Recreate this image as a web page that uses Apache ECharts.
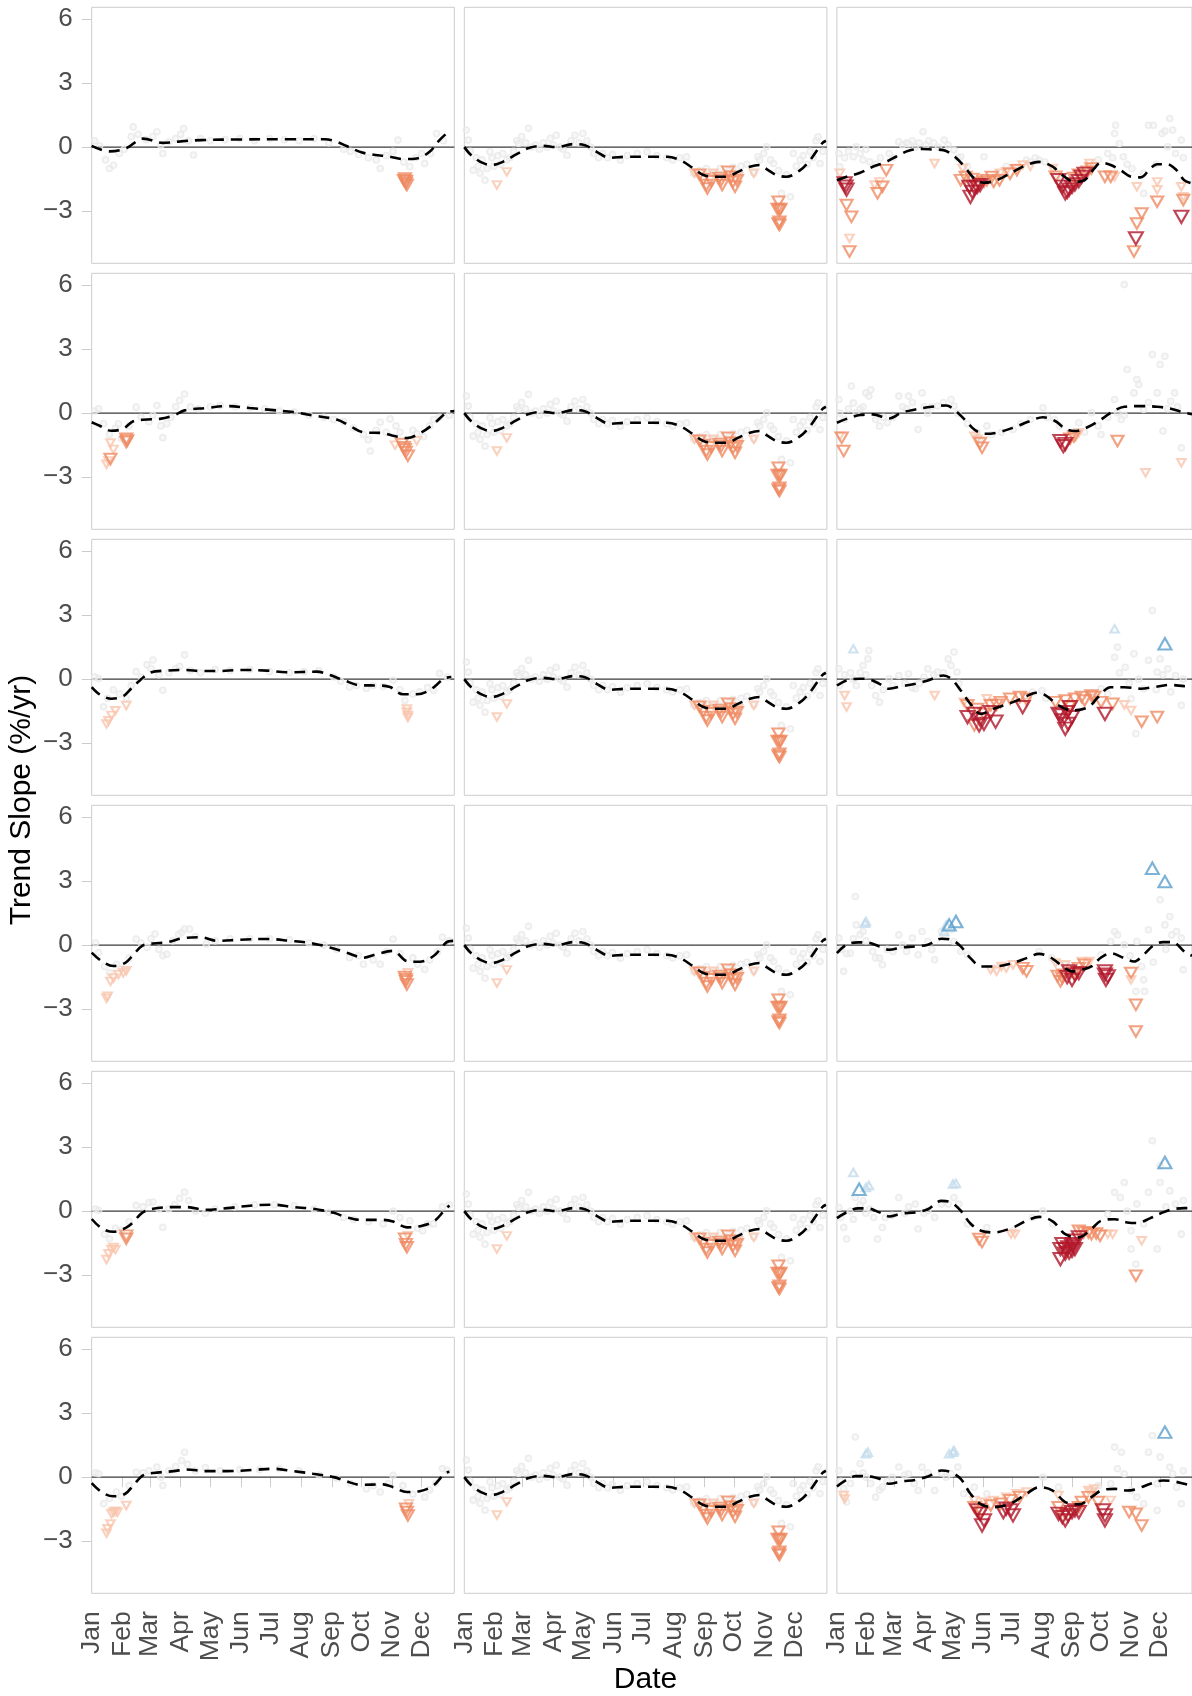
<!DOCTYPE html>
<html>
<head>
<meta charset="utf-8">
<script src="https://cdn.jsdelivr.net/npm/echarts@6/dist/echarts.min.js"></script>
<style>html,body{margin:0;padding:0;background:#fff}#chart{width:1192px;height:1696px}</style>
</head>
<body>
<div id="chart"></div>
<script>
// ---------- axes ----------
const MONTHS = ['Jan','Feb','Mar','Apr','May','Jun','Jul','Aug','Sep','Oct','Nov','Dec'];
const MONTH_DAYS = [0,31,59,90,120,151,181,212,243,273,304,334];
const Y_TICKS = [-3,0,3,6];
const X_MIN = 0, X_MAX = 367, Y_MIN = -5.45, Y_MAX = 6.56;

// ---------- column 2 (identical in every row) ----------
const c2_trend = [[0,0.0],[7,-0.38],[18,-0.73],[28,-0.84],[39,-0.69],[53,-0.33],[66,-0.03],[80,0.06],[93,0.0],[110,0.14],[122,0.09],[134,-0.22],[147,-0.5],[164,-0.45],[185,-0.45],[205,-0.45],[218,-0.6],[232,-1.0],[242,-1.31],[255,-1.39],[266,-1.39],[277,-1.16],[289,-0.92],[299,-0.84],[306,-1.03],[316,-1.31],[326,-1.39],[340,-1.08],[350,-0.61],[362,0.17],[366,0.3]];
const c2_gray = [[2,0.8],[4,0.33],[6,-0.2],[9,-1.08],[12,-0.5],[14,-0.9],[16,-1.23],[18,-0.6],[21,-1.55],[23,-1.0],[26,-0.22],[28,-0.5],[30,-0.9],[34,-0.4],[37,-0.8],[39,-0.3],[43,-0.6],[46,-0.5],[50,-0.2],[53,0.3],[55,0.17],[58,0.5],[62,0.2],[65,0.88],[68,0.0],[72,0.1],[76,-0.1],[80,0.2],[84,0.0],[87,0.41],[90,0.1],[93,0.56],[97,0.0],[100,-0.1],[104,-0.38],[108,0.3],[112,0.56],[116,0.2],[120,0.64],[124,0.3],[128,0.0],[131,-0.3],[136,-0.5],[140,-0.3],[145,-0.5],[150,-0.35],[158,-0.61],[165,-0.4],[175,-0.3],[185,-0.22],[195,-0.4],[205,-0.5],[211,-0.6],[218,-0.5],[225,-0.45],[232,-1.23],[238,-1.1],[245,-1.0],[252,-1.2],[259,-1.0],[268,-1.1],[272,-0.95],[280,-0.9],[286,-0.8],[293,-1.23],[297,-0.45],[299,-0.6],[303,-0.3],[306,0.02],[310,-0.6],[313,-0.77],[318,-1.1],[321,-2.17],[326,-1.3],[330,-2.33],[333,-0.3],[336,-0.9],[340,-0.6],[343,-0.4],[347,-0.8],[350,-0.2],[353,-0.5],[356,0.3],[358,0.48],[360,-0.77],[363,-0.2]];
const c2_tri = [[33,-1.78,'wd'],[43,-1.16,'wd'],[233,-1.23,'wd'],[252,-1.23,'wd'],[269,-1.31,'wd'],[277,-1.39,'wd'],[293,-1.23,'wd'],[238,-1.3,'d'],[242,-1.5,'d'],[245,-1.78,'d'],[246,-1.94,'d'],[250,-1.6,'d'],[258,-1.45,'d'],[260,-1.55,'d'],[261,-1.78,'d'],[267,-1.16,'d'],[270,-1.39,'d'],[272,-1.62,'d'],[274,-1.86,'d'],[276,-1.55,'d'],[318,-2.56,'d'],[319,-2.95,'d'],[317,-2.9,'d'],[320,-2.9,'d'],[319,-3.5,'d'],[319,-3.65,'d'],[318,-3.58,'d']];

// ---------- column 1 ----------
const r1c1_trend = [[0,0.06],[18,-0.2],[35,-0.05],[52,0.4],[72,0.2],[90,0.27],[110,0.33],[150,0.36],[200,0.37],[236,0.37],[248,0.25],[258,0.05],[275,-0.27],[302,-0.45],[315,-0.56],[329,-0.53],[342,-0.22],[352,0.33],[362,0.76]];
const r1c1_gray = [[3,0.3],[8,0.05],[14,-0.6],[18,-1.0],[22,-0.85],[28,-0.3],[33,-0.1],[40,0.5],[42,0.95],[47,0.6],[55,0.35],[62,0.5],[66,0.72],[70,0.1],[72,-0.3],[78,0.25],[85,0.4],[90,0.6],[93,0.87],[98,0.3],[103,-0.37],[110,0.4],[120,0.3],[135,0.35],[150,0.4],[165,0.3],[180,0.4],[195,0.35],[210,0.3],[225,0.4],[240,0.2],[255,-0.1],[262,-0.2],[270,-0.35],[280,-0.5],[288,-0.6],[292,-1.0],[298,-0.4],[305,-0.2],[310,0.33],[316,-0.7],[322,-0.92],[328,-0.5],[334,-0.3],[337,-0.77],[343,-0.3],[349,0.64],[356,0.3]];
const r1c1_tri = [[317,-1.47,'d'],[318,-1.6,'d'],[318,-1.7,'d'],[319,-1.78,'d'],[316,-1.55,'d'],[320,-1.5,'wd']];

const r2c1_trend = [[0,-0.43],[8,-0.59],[20,-0.83],[32,-0.73],[42,-0.38],[56,-0.3],[69,-0.27],[83,-0.11],[94,0.13],[116,0.24],[137,0.33],[160,0.24],[184,0.14],[204,0.05],[224,-0.11],[248,-0.3],[261,-0.59],[275,-0.9],[295,-0.94],[305,-1.06],[319,-1.17],[332,-0.95],[346,-0.51],[359,0.02],[367,0.1]];
const r2c1_gray = [[3,0.1],[7,0.2],[12,-0.5],[18,-1.0],[24,-0.7],[27,-0.5],[30,-1.2],[38,-0.6],[45,0.28],[50,-0.2],[58,-0.4],[62,-0.1],[66,0.36],[70,-0.6],[72,-1.15],[76,-0.5],[80,-0.2],[85,0.3],[89,0.6],[94,0.9],[100,0.3],[108,0.2],[120,0.3],[130,0.35],[145,0.3],[160,0.25],[175,0.2],[190,0.1],[205,0.05],[220,-0.1],[235,-0.2],[245,-0.3],[255,-0.4],[265,-0.7],[275,-1.0],[280,-1.25],[282,-1.78],[288,-0.8],[292,-0.43],[298,-0.9],[302,-0.27],[308,-0.6],[312,-0.9],[325,-0.8],[329,-0.97],[336,-1.1],[342,-0.6],[346,-0.3],[352,-0.2],[362,-0.1]];
const r2c1_tri = [[15,-2.4,'wd'],[17,-2.25,'wd'],[19,-1.4,'wd'],[22,-1.7,'wd'],[19,-2.15,'d'],[35,-1.2,'d'],[35,-1.35,'d'],[36,-1.28,'d'],[307,-1.5,'wd'],[314,-1.45,'d'],[317,-1.7,'d'],[318,-1.83,'d'],[320,-2.0,'d'],[316,-1.6,'d'],[329,-1.3,'wd']];

const r3c1_trend = [[0,-0.37],[8,-0.71],[20,-0.92],[32,-0.8],[40,-0.44],[49,-0.05],[59,0.3],[76,0.4],[96,0.43],[110,0.38],[128,0.38],[150,0.43],[177,0.4],[197,0.32],[228,0.35],[241,0.19],[255,-0.05],[272,-0.29],[292,-0.3],[302,-0.37],[315,-0.71],[329,-0.71],[342,-0.52],[357,0.03],[364,0.1]];
const r3c1_gray = [[3,0.1],[7,0.03],[12,-1.3],[16,-0.9],[22,-0.5],[28,-0.7],[35,-0.9],[40,-0.3],[45,0.35],[50,0.1],[56,0.67],[60,0.5],[62,0.9],[68,0.2],[72,-0.52],[78,0.3],[85,0.5],[89,0.6],[94,1.14],[100,0.4],[110,0.3],[125,0.45],[140,0.4],[160,0.45],[180,0.35],[200,0.3],[215,0.35],[230,0.4],[245,0.1],[252,-0.1],[261,-0.37],[268,-0.3],[278,-0.44],[285,-0.3],[295,-0.35],[305,-0.05],[312,-0.5],[317,-1.0],[325,-0.7],[332,-0.6],[340,-0.4],[346,-0.52],[352,0.27],[360,0.1]];
const r3c1_tri = [[15,-2.1,'wd'],[17,-1.95,'wd'],[20,-1.7,'wd'],[24,-1.48,'wd'],[35,-1.24,'wd'],[319,-1.4,'wd'],[319,-1.55,'wd'],[320,-1.7,'wd'],[320,-1.8,'wd']];

const r4c1_trend = [[0,-0.35],[10,-0.75],[22,-0.98],[34,-0.83],[42,-0.46],[51,-0.03],[62,0.08],[76,0.13],[93,0.33],[110,0.37],[127,0.2],[150,0.25],[177,0.29],[201,0.2],[224,0.08],[241,-0.11],[258,-0.35],[275,-0.59],[288,-0.43],[305,-0.27],[319,-0.75],[332,-0.78],[346,-0.51],[359,0.13],[366,0.2]];
const r4c1_gray = [[4,0.1],[7,-0.35],[13,-1.0],[18,-1.3],[25,-0.9],[30,-1.1],[38,-0.6],[45,0.29],[50,0.1],[56,-0.1],[60,0.3],[64,0.52],[68,-0.2],[72,-0.5],[76,-0.43],[82,0.2],[88,0.5],[91,0.6],[94,0.76],[99,0.75],[105,0.4],[116,0.05],[125,0.2],[140,0.3],[160,0.3],[180,0.3],[200,0.25],[220,0.1],[235,0.0],[248,-0.2],[261,-0.59],[270,-0.5],[275,-0.9],[285,-0.7],[292,-0.9],[298,-0.3],[305,0.29],[312,-0.4],[325,-0.6],[330,-0.9],[337,-1.14],[342,-0.7],[350,-0.3],[355,0.37],[362,0.2]];
const r4c1_tri = [[15,-2.49,'wd'],[16,-2.4,'wd'],[19,-1.7,'wd'],[22,-1.54,'wd'],[27,-1.38,'wd'],[32,-1.3,'wd'],[35,-1.2,'wd'],[317,-1.5,'d'],[318,-1.7,'d'],[319,-1.85,'d'],[318,-1.6,'d'],[320,-1.3,'wd']];

const r5c1_trend = [[0,-0.37],[10,-0.8],[22,-0.97],[34,-0.8],[42,-0.52],[51,-0.08],[62,0.11],[83,0.19],[96,0.19],[116,0.06],[137,0.14],[164,0.27],[184,0.3],[204,0.19],[224,0.11],[245,-0.08],[258,-0.29],[272,-0.41],[295,-0.41],[305,-0.49],[319,-0.76],[332,-0.71],[346,-0.49],[357,0.03],[362,0.27]];
const r5c1_gray = [[4,0.1],[7,0.03],[13,-1.08],[18,-1.3],[24,-0.8],[30,-0.9],[38,-0.5],[45,0.27],[52,0.2],[58,0.4],[62,0.43],[68,0.1],[72,-0.76],[78,0.1],[84,0.3],[89,0.6],[94,0.9],[98,0.5],[105,0.0],[115,-0.1],[125,0.1],[145,0.2],[165,0.3],[185,0.3],[205,0.25],[225,0.1],[240,-0.05],[255,-0.3],[265,-0.4],[280,-0.5],[295,-0.6],[305,0.0],[312,-0.3],[322,-0.45],[330,-0.8],[335,-0.92],[340,-0.6],[346,-0.6],[355,0.2],[362,0.3]];
const r5c1_tri = [[15,-2.27,'wd'],[17,-2.0,'wd'],[20,-1.8,'wd'],[22,-1.7,'wd'],[24,-1.8,'wd'],[35,-1.3,'d'],[35,-1.15,'d'],[317,-1.3,'d'],[318,-1.55,'d'],[319,-1.7,'d'],[320,-1.15,'wd']];

const r6c1_trend = [[0,-0.28],[10,-0.7],[22,-0.9],[34,-0.78],[42,-0.39],[52,0.08],[62,0.19],[83,0.28],[96,0.36],[116,0.28],[137,0.28],[164,0.34],[184,0.39],[204,0.28],[224,0.16],[245,0.0],[258,-0.2],[272,-0.36],[295,-0.34],[305,-0.47],[319,-0.7],[332,-0.66],[346,-0.39],[357,0.16],[362,0.25]];
const r6c1_gray = [[4,0.2],[7,0.16],[12,-1.25],[18,-1.0],[25,-0.7],[30,-0.9],[38,-0.4],[45,0.23],[52,0.2],[58,0.3],[66,0.47],[70,0.0],[72,-0.39],[78,0.3],[85,0.5],[91,0.78],[94,1.17],[97,0.6],[105,0.3],[115,0.45],[130,0.3],[150,0.35],[170,0.35],[190,0.4],[210,0.3],[230,0.1],[248,-0.05],[262,-0.3],[278,-0.55],[285,-0.4],[292,-0.7],[300,-0.3],[305,0.08],[315,-0.4],[325,-0.8],[337,-0.94],[342,-0.6],[348,-0.3],[355,0.4],[360,0.31]];
const r6c1_tri = [[15,-2.63,'wd'],[16,-2.42,'wd'],[19,-2.2,'wd'],[20,-1.72,'wd'],[22,-1.64,'wd'],[24,-1.6,'wd'],[26,-1.65,'wd'],[35,-1.33,'wd'],[318,-1.48,'d'],[319,-1.64,'d'],[320,-1.8,'d'],[321,-1.25,'wd']];

// ---------- column 3 ----------
const r1c3_trend = [[0,-1.55],[10,-1.39],[24,-1.2],[37,-0.92],[49,-0.73],[61,-0.45],[74,-0.17],[88,-0.09],[98,-0.11],[110,-0.14],[121,-0.42],[132,-0.92],[142,-1.47],[152,-1.67],[165,-1.55],[182,-1.16],[196,-0.84],[209,-0.69],[223,-0.92],[233,-1.31],[246,-1.63],[256,-1.55],[266,-1.0],[273,-0.73],[283,-0.84],[294,-1.11],[304,-1.39],[314,-1.42],[324,-1.0],[331,-0.8],[341,-0.8],[351,-1.08],[359,-1.55],[367,-1.7]];
const r1c3_gray = [[2,-0.3],[3,-0.92],[8,-0.5],[12,-0.2],[17,-0.45],[20,0.02],[24,-0.3],[27,-0.6],[30,-0.1],[34,-0.69],[40,-0.8],[45,-0.5],[54,-0.3],[58,-0.5],[64,0.25],[68,0.1],[72,0.2],[74,0.15],[78,0.3],[81,0.0],[85,0.2],[89,0.72],[92,0.1],[95,0.3],[100,0.2],[105,0.0],[111,0.33],[115,0.1],[121,-0.14],[125,-0.5],[128,-0.45],[135,-0.9],[152,-0.45],[165,-1.2],[175,-0.9],[185,-1.0],[196,-0.61],[200,-0.7],[205,-0.5],[209,-0.61],[215,-0.7],[229,-1.4],[262,-0.9],[270,-0.6],[280,-0.3],[285,-0.5],[287,0.64],[288,1.03],[292,0.17],[296,-0.45],[300,-0.8],[305,-1.0],[317,-1.23],[317,-2.17],[322,1.03],[327,1.03],[330,-0.8],[336,0.64],[339,0.75],[344,1.34],[347,0.8],[342,0.02],[350,-0.3],[356,0.33],[358,-0.5]];
const r1c3_tri = [[8,-1.7,'sd'],[9,-1.85,'sd'],[10,-2.0,'sd'],[137,-1.86,'sd'],[138,-2.33,'sd'],[140,-2.1,'sd'],[142,-1.9,'sd'],[145,-1.86,'sd'],[148,-1.78,'sd'],[229,-1.55,'sd'],[233,-1.86,'sd'],[236,-2.17,'sd'],[238,-2.1,'sd'],[240,-2.0,'sd'],[243,-1.86,'sd'],[246,-1.75,'sd'],[250,-1.6,'sd'],[253,-1.4,'sd'],[256,-1.25,'sd'],[309,-4.28,'sd'],[356,-3.27,'sd'],
  [10,-2.72,'d'],[15,-3.27,'d'],[13,-4.9,'d'],[42,-2.17,'d'],[47,-1.86,'d'],[51,-1.08,'d'],[128,-1.55,'d'],[133,-1.4,'d'],[152,-1.63,'d'],[155,-1.55,'d'],[162,-1.63,'d'],[168,-1.55,'d'],[179,-1.25,'d'],[186,-1.08,'d'],[226,-1.39,'d'],[259,-1.16,'d'],[263,-1.0,'d'],[277,-1.39,'d'],[283,-1.39,'d'],[315,-3.11,'d'],[310,-3.58,'d'],[307,-4.9,'d'],[331,-2.56,'d'],[358,-2.48,'d'],[140,-1.5,'d'],[147,-1.7,'d'],[160,-1.4,'d'],[245,-1.45,'d'],[250,-1.3,'d'],
  [3,-1.23,'wd'],[13,-4.28,'wd'],[39,-1.78,'wd'],[44,-1.63,'wd'],[101,-0.77,'wd'],[130,-1.0,'wd'],[169,-1.23,'wd'],[186,-1.0,'wd'],[192,-0.84,'wd'],[223,-1.0,'wd'],[261,-0.77,'wd'],[287,-1.39,'wd'],[310,-1.86,'wd'],[331,-2.0,'wd'],[331,-1.63,'wd'],[358,-2.33,'wd'],[356,-1.86,'wd'],[175,-1.15,'wd'],[200,-0.9,'wd']];

const r2c3_trend = [[0,-0.45],[10,-0.27],[24,-0.09],[37,-0.06],[54,-0.25],[67,0.02],[81,0.17],[98,0.3],[113,0.36],[121,0.17],[132,-0.3],[142,-0.77],[152,-0.97],[165,-0.92],[182,-0.69],[199,-0.38],[213,-0.19],[226,-0.38],[236,-0.73],[246,-0.84],[260,-0.64],[273,-0.3],[283,0.02],[297,0.3],[314,0.33],[331,0.3],[344,0.22],[354,0.09],[359,0.02],[367,-0.05]];
const r2c3_gray = [[2,0.64],[3,0.0],[8,-0.3],[12,0.2],[15,1.27],[17,0.48],[20,0.02],[24,0.2],[27,0.3],[30,0.95],[33,0.8],[35,1.1],[40,-0.3],[44,-0.61],[48,-0.2],[52,-0.45],[58,-0.2],[64,0.8],[68,0.3],[72,0.2],[74,0.8],[78,0.5],[84,-0.77],[88,0.95],[90,0.3],[94,0.0],[98,0.3],[104,0.33],[110,0.5],[118,0.64],[121,0.33],[125,0.0],[135,-0.5],[145,-0.9],[148,-1.23],[155,-0.6],[160,-1.0],[170,-0.9],[182,-0.77],[190,-0.5],[200,-0.3],[213,0.25],[218,-0.2],[225,-0.3],[230,-0.6],[250,-0.45],[256,-0.9],[263,0.02],[270,-0.6],[273,-1.0],[280,-0.2],[287,0.64],[290,0.02],[294,-0.3],[297,-0.1],[300,2.05],[307,0.95],[310,1.58],[312,1.34],[317,0.17],[322,0.5],[326,2.75],[331,0.95],[334,2.28],[337,-0.84],[339,2.67],[342,0.2],[345,0.56],[349,0.95],[352,0.3],[356,-1.63],[297,6.03]];
const r2c3_tri = [[7,-1.78,'d'],[5,-1.16,'d'],[150,-1.63,'d'],[148,-1.4,'d'],[290,-1.31,'d'],[241,-1.2,'d'],[245,-1.1,'d'],[3,-1.08,'wd'],[142,-1.08,'wd'],[145,-1.23,'wd'],[250,-0.92,'wd'],[319,-2.8,'wd'],[356,-2.33,'wd'],[247,-1.1,'wd'],[234,-1.55,'sd'],[231,-1.31,'sd'],[236,-1.45,'sd']];

const r3c3_trend = [[0,-0.3],[10,-0.06],[24,0.02],[34,-0.02],[44,-0.22],[54,-0.45],[67,-0.33],[81,-0.22],[94,-0.06],[110,0.17],[118,0.02],[128,-0.53],[138,-1.16],[149,-1.63],[162,-1.39],[182,-1.08],[196,-0.8],[206,-0.64],[216,-0.77],[229,-1.23],[243,-1.47],[260,-1.31],[270,-0.84],[283,-0.38],[297,-0.38],[314,-0.45],[327,-0.38],[344,-0.27],[359,-0.33],[367,-0.35]];
const r3c3_gray = [[2,0.48],[3,-0.3],[8,0.2],[14,0.3],[17,0.0],[20,-0.3],[24,0.3],[27,0.64],[30,0.2],[32,0.95],[33,1.34],[36,-0.3],[40,-0.77],[44,-1.08],[48,-0.5],[54,0.02],[58,-0.3],[64,0.17],[70,-0.2],[74,0.25],[78,-0.4],[81,-0.45],[85,-0.2],[90,0.1],[94,0.48],[100,0.2],[104,0.33],[110,0.3],[115,0.95],[118,0.64],[121,1.27],[124,0.33],[126,-0.2],[202,-0.61],[212,-0.53],[216,-0.9],[260,-0.8],[273,-0.45],[280,-0.7],[287,1.03],[290,1.5],[292,0.3],[298,0.56],[302,-0.2],[304,-0.92],[307,1.19],[309,-2.56],[312,0.0],[317,-0.45],[322,0.88],[326,3.22],[330,-0.5],[331,0.33],[334,0.95],[337,0.2],[342,0.48],[345,-0.6],[350,0.17],[356,-1.23],[358,0.0]];
const r3c3_tri = [[17,1.42,'wi'],[287,2.36,'wi'],[339,1.66,'i'],
  [8,-0.77,'wd'],[10,-1.31,'wd'],[101,-0.77,'wd'],[131,-1.08,'wd'],[304,-1.47,'wd'],[196,-1.08,'wd'],[155,-0.92,'wd'],[265,-0.9,'wd'],[297,-1.2,'wd'],
  [135,-1.23,'d'],[142,-2.17,'d'],[152,-1.63,'d'],[159,-1.23,'d'],[169,-1.08,'d'],[179,-0.92,'d'],[189,-0.84,'d'],[196,-0.92,'d'],[226,-1.08,'d'],[236,-1.0,'d'],[246,-0.92,'d'],[253,-0.84,'d'],[263,-0.77,'d'],[266,-0.84,'d'],[273,-1.08,'d'],[285,-1.16,'d'],[315,-2.0,'d'],[331,-1.78,'d'],[145,-1.4,'d'],[165,-1.2,'d'],[240,-1.3,'d'],[256,-1.0,'d'],
  [135,-1.78,'sd'],[142,-1.63,'sd'],[147,-2.17,'sd'],[148,-1.9,'sd'],[152,-2.1,'sd'],[164,-2.0,'sd'],[192,-1.31,'sd'],[229,-1.63,'sd'],[233,-1.94,'sd'],[236,-2.33,'sd'],[239,-2.1,'sd'],[243,-1.78,'sd'],[241,-1.31,'sd'],[277,-1.63,'sd'],[159,-1.55,'sd'],[238,-1.55,'sd'],[232,-1.7,'sd']];

const r4c3_trend = [[0,-0.38],[10,0.02],[22,0.13],[30,0.13],[44,-0.06],[54,-0.22],[67,-0.11],[81,-0.06],[94,0.02],[108,0.3],[118,0.25],[128,-0.06],[138,-0.61],[149,-1.0],[162,-1.0],[182,-0.84],[196,-0.61],[209,-0.41],[219,-0.53],[229,-0.84],[243,-1.23],[253,-1.16],[263,-1.0],[273,-0.58],[283,-0.38],[297,-0.61],[307,-0.77],[317,-0.45],[327,-0.02],[337,0.14],[347,0.14],[359,-0.3],[367,-0.5]];
const r4c3_gray = [[2,0.33],[4,-0.2],[7,-1.23],[10,-0.4],[14,-0.38],[17,0.3],[19,2.28],[20,0.95],[24,0.5],[27,0.64],[30,0.2],[37,-0.3],[40,-0.6],[44,-0.61],[47,-0.92],[52,-0.2],[58,-0.3],[64,0.48],[68,0.0],[72,-0.3],[78,0.33],[84,-0.45],[88,0.64],[94,0.17],[98,-0.2],[101,-0.69],[108,0.64],[112,0.4],[118,0.72],[121,0.17],[128,-0.3],[135,-0.45],[162,-1.08],[209,-0.3],[222,-0.6],[236,-0.92],[273,-0.45],[283,0.17],[287,0.64],[290,0.48],[297,0.02],[303,-0.5],[310,0.17],[315,-1.0],[317,-1.63],[309,-2.17],[318,-2.17],[322,0.72],[327,-0.8],[334,2.13],[339,0.95],[344,1.34],[346,0.48],[351,0.64],[356,0.33],[358,-1.16],[340,-0.2]];
const r4c3_tri = [[29,1.03,'wi'],[30,1.11,'wi'],[111,0.64,'wi'],[113,0.95,'wi'],
  [116,0.95,'i'],[123,1.11,'i'],[326,3.61,'i'],[339,2.98,'i'],
  [159,-1.16,'wd'],[165,-1.23,'wd'],[175,-1.08,'wd'],[182,-0.92,'wd'],[226,-0.84,'wd'],[236,-0.92,'wd'],[253,-0.77,'wd'],[261,-0.77,'wd'],[304,-1.63,'wd'],[170,-1.0,'wd'],
  [192,-1.08,'d'],[196,-1.23,'d'],[231,-1.7,'d'],[233,-1.55,'d'],[234,-1.39,'d'],[250,-1.08,'d'],[256,-0.92,'d'],[304,-1.31,'d'],[309,-2.8,'d'],[309,-4.05,'d'],[228,-1.45,'d'],[245,-1.3,'d'],
  [240,-1.23,'sd'],[243,-1.63,'sd'],[246,-1.39,'sd'],[250,-1.31,'sd'],[277,-1.23,'sd'],[277,-1.39,'sd'],[278,-1.63,'sd'],[280,-1.47,'sd'],[238,-1.5,'sd']];

const r5c3_trend = [[0,-0.33],[10,-0.06],[22,0.13],[32,0.13],[44,-0.06],[54,-0.25],[67,-0.11],[81,-0.06],[94,0.09],[108,0.48],[118,0.41],[128,0.02],[138,-0.58],[149,-0.92],[162,-1.0],[182,-0.77],[196,-0.45],[209,-0.27],[223,-0.48],[236,-1.08],[250,-1.23],[263,-0.84],[273,-0.45],[287,-0.38],[300,-0.53],[310,-0.56],[324,-0.33],[337,-0.06],[347,0.09],[359,0.14],[367,0.14]];
const r5c3_gray = [[2,0.17],[4,-0.3],[7,-0.77],[10,-1.31],[14,0.0],[17,-0.38],[19,0.64],[24,0.3],[27,0.48],[30,-0.1],[34,0.1],[38,-0.3],[42,-1.31],[47,-0.77],[50,-0.3],[57,-0.2],[64,0.64],[70,-0.1],[74,0.2],[81,0.33],[84,-0.84],[90,-0.1],[94,0.02],[101,-0.3],[108,0.33],[115,0.33],[121,0.64],[126,0.33],[135,-0.6],[155,-0.77],[182,-0.92],[202,-0.3],[213,0.02],[223,-0.6],[280,-0.15],[287,0.88],[293,0.64],[297,1.34],[300,0.0],[304,-0.92],[309,-2.48],[310,0.33],[317,-0.6],[322,0.88],[326,3.3],[331,-1.78],[334,2.13],[334,1.34],[340,0.2],[344,0.95],[350,0.33],[356,-1.08],[358,0.5],[304,-1.78]];
const r5c3_tri = [[17,1.81,'wi'],[30,1.11,'wi'],[33,1.2,'wi'],[120,1.27,'wi'],[123,1.3,'wi'],
  [23,1.03,'i'],[339,2.28,'i'],
  [180,-1.08,'wd'],[184,-1.08,'wd'],[280,-1.08,'wd'],[285,-1.08,'wd'],[315,-1.39,'wd'],
  [147,-1.31,'d'],[150,-1.45,'d'],[250,-0.92,'d'],[260,-1.0,'d'],[263,-1.08,'d'],[272,-1.16,'d'],[309,-3.03,'d'],[255,-1.0,'d'],[268,-1.05,'d'],
  [231,-2.25,'sd'],[231,-1.78,'sd'],[233,-1.55,'sd'],[236,-1.78,'sd'],[239,-1.7,'sd'],[243,-1.63,'sd'],[244,-1.55,'sd'],[246,-1.39,'sd'],[250,-1.23,'sd'],[236,-2.0,'sd'],[243,-1.86,'sd'],[246,-1.78,'sd'],[240,-1.95,'sd']];

const r6c3_trend = [[0,-0.44],[10,-0.13],[20,0.05],[30,0.05],[44,-0.08],[54,-0.31],[67,-0.2],[81,-0.13],[94,0.03],[108,0.31],[118,0.23],[128,-0.08],[138,-0.78],[149,-1.28],[162,-1.41],[179,-1.25],[196,-0.78],[209,-0.47],[223,-0.63],[236,-1.17],[250,-1.28],[263,-0.94],[273,-0.63],[287,-0.55],[300,-0.63],[310,-0.55],[324,-0.31],[337,-0.16],[347,-0.19],[359,-0.31],[367,-0.4]];
const r6c3_gray = [[2,0.31],[4,-0.2],[7,-0.55],[10,-1.17],[14,-0.3],[17,0.15],[19,1.88],[24,0.63],[27,0.2],[30,0.0],[35,-0.3],[40,-0.94],[44,-0.6],[47,-0.47],[52,-0.2],[57,0.0],[64,0.47],[70,0.1],[74,0.16],[80,-0.3],[84,-0.63],[88,0.47],[94,0.2],[101,-0.63],[108,0.2],[113,0.0],[118,0.16],[125,0.47],[131,-0.78],[142,-0.47],[155,-0.78],[213,0.0],[229,-0.47],[270,-0.4],[283,-0.31],[287,1.41],[290,0.39],[294,1.17],[297,0.16],[304,-0.63],[310,-0.94],[317,-1.25],[322,1.17],[326,1.95],[331,-1.56],[331,-0.31],[334,0.94],[344,0.47],[347,0.16],[351,-0.47],[356,-1.25],[358,0.3]];
const r6c3_tri = [[30,1.09,'wi'],[32,1.17,'wi'],[116,1.09,'wi'],[120,1.17,'wi'],[121,1.25,'wi'],
  [339,2.11,'i'],
  [7,-0.86,'wd'],[8,-1.02,'wd'],[142,-1.09,'wd'],[152,-1.17,'wd'],[162,-1.09,'wd'],[175,-0.94,'wd'],[186,-0.78,'wd'],[196,-0.7,'wd'],[229,-0.86,'wd'],[260,-0.63,'wd'],[263,-0.7,'wd'],[266,-0.55,'wd'],[283,-1.09,'wd'],
  [142,-1.41,'d'],[149,-1.64,'d'],[159,-1.33,'d'],[169,-1.25,'d'],[179,-1.09,'d'],[189,-0.94,'d'],[229,-1.41,'d'],[236,-1.72,'d'],[250,-1.41,'d'],[253,-1.17,'d'],[260,-0.94,'d'],[302,-1.64,'d'],[309,-1.72,'d'],[315,-2.27,'d'],[270,-1.17,'d'],
  [150,-2.27,'sd'],[152,-2.03,'sd'],[145,-1.56,'sd'],[148,-1.72,'sd'],[172,-1.64,'sd'],[175,-1.48,'sd'],[180,-1.56,'sd'],[182,-1.8,'sd'],[229,-1.72,'sd'],[233,-1.88,'sd'],[236,-2.03,'sd'],[239,-1.8,'sd'],[243,-1.64,'sd'],[246,-1.56,'sd'],[250,-1.64,'sd'],[275,-1.56,'sd'],[277,-1.8,'sd'],[277,-2.03,'sd']];

// ---------- layout / styles ----------
const C2 = {trend: c2_trend, gray: c2_gray, tri: c2_tri};
const PANELS = [
  [{trend:r1c1_trend, gray:r1c1_gray, tri:r1c1_tri}, C2, {trend:r1c3_trend, gray:r1c3_gray, tri:r1c3_tri}],
  [{trend:r2c1_trend, gray:r2c1_gray, tri:r2c1_tri}, C2, {trend:r2c3_trend, gray:r2c3_gray, tri:r2c3_tri}],
  [{trend:r3c1_trend, gray:r3c1_gray, tri:r3c1_tri}, C2, {trend:r3c3_trend, gray:r3c3_gray, tri:r3c3_tri}],
  [{trend:r4c1_trend, gray:r4c1_gray, tri:r4c1_tri}, C2, {trend:r4c3_trend, gray:r4c3_gray, tri:r4c3_tri}],
  [{trend:r5c1_trend, gray:r5c1_gray, tri:r5c1_tri}, C2, {trend:r5c3_trend, gray:r5c3_gray, tri:r5c3_tri}],
  [{trend:r6c1_trend, gray:r6c1_gray, tri:r6c1_tri}, C2, {trend:r6c3_trend, gray:r6c3_gray, tri:r6c3_tri}]
];
const COL_LEFT = [91.7, 464.3, 836.9], COL_W = 362.6;
const ROW_TOP0 = 7.3, ROW_STEP = 266, ROW_H = 256;
const FONT = '"Liberation Sans", Arial, Helvetica, sans-serif';
const TRI_STYLE = {
  sd: {color:'#b2182b', size:14, rot:180},
  d:  {color:'#ef8a62', size:12, rot:180},
  wd: {color:'#f9c6ae', size:8.5, rot:180},
  wi: {color:'#c3dbec', size:8.5, rot:0},
  i:  {color:'#5a9fcc', size:13, rot:0}
};
const CLASS_ORDER = ['wd','wi','d','i','sd'];

const grids = [], xAxes = [], yAxes = [], series = [];
PANELS.forEach((row, r) => {
  row.forEach((p, c) => {
    const idx = grids.length;
    const bottom = r === PANELS.length - 1, leftCol = c === 0;
    grids.push({left: COL_LEFT[c], top: ROW_TOP0 + r * ROW_STEP, width: COL_W, height: ROW_H,
      show: true, borderColor: '#cccccc', borderWidth: 1, backgroundColor: 'rgba(0,0,0,0)', containLabel: false});
    xAxes.push({type: 'value', gridIndex: idx, min: X_MIN, max: X_MAX,
      axisLine: {show: false}, splitLine: {show: false},
      axisTick: {show: bottom, customValues: MONTH_DAYS, length: 10, lineStyle: {color: '#cccccc', width: 1}},
      axisLabel: {show: bottom, customValues: MONTH_DAYS, rotate: 90, margin: 18, fontSize: 26.5, color: '#4d4d4d', fontFamily: FONT,
        formatter: v => MONTHS[MONTH_DAYS.indexOf(Math.round(v))] || ''}});
    yAxes.push({type: 'value', gridIndex: idx, min: Y_MIN, max: Y_MAX,
      axisLine: {show: false}, splitLine: {show: false},
      axisTick: {show: leftCol, customValues: Y_TICKS, length: 10, lineStyle: {color: '#cccccc', width: 1}},
      axisLabel: {show: leftCol, customValues: Y_TICKS, margin: 19, fontSize: 26, color: '#4d4d4d', fontFamily: FONT,
        formatter: v => v < 0 ? '\u2212' + Math.abs(v) : String(v)}});
    // zero reference line
    series.push({type: 'line', xAxisIndex: idx, yAxisIndex: idx, data: [[X_MIN, 0], [X_MAX, 0]],
      showSymbol: false, silent: true, z: 1, lineStyle: {color: '#3a3a3a', width: 1.2}});
    // background (non-significant) points
    series.push({type: 'scatter', xAxisIndex: idx, yAxisIndex: idx, data: p.gray, symbol: 'circle', symbolSize: 6,
      silent: true, z: 2, itemStyle: {color: 'rgba(238,238,238,0.55)', borderColor: '#e8e8e8', borderWidth: 1.6}});
    // significant trends
    CLASS_ORDER.forEach(cls => {
      const st = TRI_STYLE[cls];
      const d = p.tri.filter(t => t[2] === cls).map(t => [t[0], t[1]]);
      if (!d.length) return;
      series.push({type: 'scatter', xAxisIndex: idx, yAxisIndex: idx, data: d, symbol: 'triangle',
        symbolSize: [st.size, st.size * 0.88], symbolRotate: st.rot, silent: true, z: 3,
        itemStyle: {color: 'rgba(0,0,0,0)', borderColor: st.color, borderWidth: 2.1}});
    });
    // smoothed trend
    series.push({type: 'line', xAxisIndex: idx, yAxisIndex: idx, data: p.trend, smooth: 0.35,
      showSymbol: false, silent: true, z: 4, lineStyle: {color: '#000000', width: 2.6, type: [11, 7]}});
  });
});

const chart = echarts.init(document.getElementById('chart'), null, {renderer: 'canvas'});
chart.setOption({
  animation: false,
  backgroundColor: '#ffffff',
  grid: grids, xAxis: xAxes, yAxis: yAxes, series: series,
  graphic: [
    {type: 'text', x: 22, y: 800, rotation: Math.PI / 2,
      style: {text: 'Trend Slope (%/yr)', font: '30px ' + FONT, fill: '#000000', align: 'center', verticalAlign: 'middle'}},
    {type: 'text', x: 645.5, y: 1680,
      style: {text: 'Date', font: '30px ' + FONT, fill: '#000000', align: 'center', verticalAlign: 'middle'}}
  ]
});
</script>
</body>
</html>
